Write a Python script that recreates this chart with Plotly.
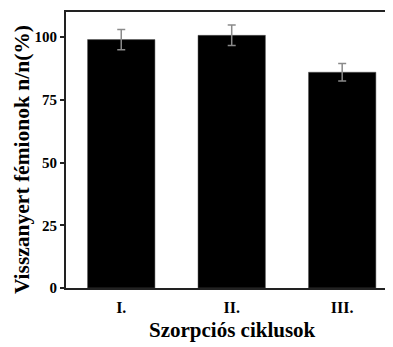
import plotly.graph_objects as go

cycles = ["I.", "II.", "III."]
recovered = [99.0, 100.7, 86.0]
errors = [4.0, 4.1, 3.5]
y_ticks = [0, 25, 50, 75, 100]

fig = go.Figure()
fig.add_trace(
    go.Bar(
        x=list(range(len(cycles))),
        y=recovered,
        width=0.61,
        marker=dict(color="black", line=dict(color="#555", width=0.5)),
        error_y=dict(
            type="data",
            array=errors,
            color="#8a8a8a",
            thickness=1.5,
            width=4,
        ),
        showlegend=False,
    )
)

font = dict(family="Liberation Serif", color="black", weight="bold")

fig.update_xaxes(
    range=[-0.5, 2.46],
    tickvals=list(range(len(cycles))),
    ticktext=cycles,
    tickfont=dict(size=16, **font),
    ticks="",
    ticklabelstandoff=4,
    showline=True,
    mirror=True,
    linecolor="#222",
    linewidth=2,
    showgrid=False,
    zeroline=False,
    automargin=False,
)
fig.update_yaxes(
    range=[0, 110],
    tickvals=y_ticks,
    tickfont=dict(size=15, **font),
    ticks="outside",
    ticklen=4,
    tickwidth=1.5,
    tickcolor="#222",
    showline=True,
    mirror=False,
    linecolor="#222",
    linewidth=2,
    showgrid=False,
    zeroline=False,
    automargin=False,
)

# axis titles as annotations so they sit where the original has them
fig.add_annotation(
    text="Szorpciós ciklusok",
    xref="paper", yref="paper", x=0.51, y=-0.152,
    xanchor="center", yanchor="middle",
    showarrow=False, font=dict(size=21, **font),
)
fig.add_annotation(
    text="Visszanyert fémionok n/n(%)",
    xref="paper", yref="paper", x=-0.134, y=0.464,
    xanchor="center", yanchor="middle", textangle=-90,
    showarrow=False, font=dict(size=21.5, **font),
)

# page body has an 8px default margin, so offset the figure by that
fig.update_layout(
    width=385,
    height=339,
    margin=dict(l=58, r=0, t=4, b=59),
    plot_bgcolor="white",
    paper_bgcolor="white",
)

fig.write_html("out.html")
